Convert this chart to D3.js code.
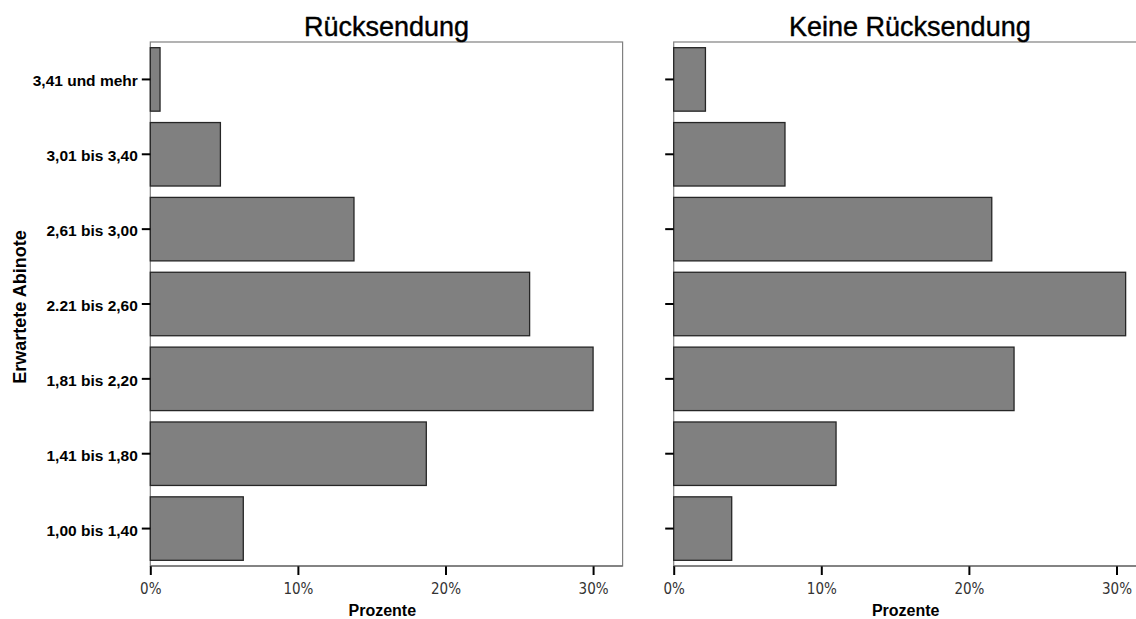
<!DOCTYPE html>
<html>
<head>
<meta charset="utf-8">
<script src="https://cdn.jsdelivr.net/npm/d3@7"></script>
<style>
  html, body { margin: 0; padding: 0; background: #fff; }
  svg { display: block; }
</style>
</head>
<body>
<svg id="chart" width="1136" height="619"></svg>
<script>
const categories = ["3,41 und mehr", "3,01 bis 3,40", "2,61 bis 3,00", "2.21 bis 2,60", "1,81 bis 2,20", "1,41 bis 1,80", "1,00 bis 1,40"];
const panelTitles = ["Rücksendung", "Keine Rücksendung"];
const ruecksendung = [0.66, 4.75, 13.8, 25.7, 30.0, 18.7, 6.3];
const keineRuecksendung = [2.15, 7.54, 21.55, 30.62, 23.06, 11.0, 3.93];
const xTicks = [0, 10, 20, 30];
const xDomain = [0, 32];
const xLabel = "Prozente";
const yLabel = "Erwartete Abinote";

(function () {
const svg = d3.select("#chart");
const plotTop = 42, plotBottom = 566, plotW = 472.3;
const panels = [
  { title: panelTitles[0], values: ruecksendung, x0: 150.3, labels: true },
  { title: panelTitles[1], values: keineRuecksendung, x0: 673.7, labels: false }
];

const y = d3.scaleBand().domain(categories).range([plotTop, plotBottom])
  .paddingInner(0.152).paddingOuter(0.076);
const x = d3.scaleLinear().domain(xDomain).range([0, plotW]);

const sans = "'Liberation Sans', Arial, Helvetica, sans-serif";
const narrow = "'Liberation Sans Narrow', 'Arial Narrow', 'DejaVu Sans Condensed', sans-serif";

panels.forEach(p => {
  const g = svg.append("g").attr("transform", `translate(${p.x0},0)`);

  g.append("rect")
    .attr("x", 0).attr("y", plotTop)
    .attr("width", plotW).attr("height", plotBottom - plotTop)
    .attr("fill", "none").attr("stroke", "#808080").attr("stroke-width", 1.2);

  g.selectAll("rect.bar").data(p.values).join("rect")
    .attr("class", "bar")
    .attr("x", x(0))
    .attr("y", (d, i) => y(categories[i]))
    .attr("width", d => x(d) - x(0))
    .attr("height", y.bandwidth())
    .attr("fill", "#808080")
    .attr("stroke", "#262626")
    .attr("stroke-width", 1.3);

  const ya = g.append("g").call(
    d3.axisLeft(y).tickSize(8.5).tickPadding(4)
      .tickFormat(p.labels ? (d => d) : (() => ""))
  );
  ya.select(".domain").remove();
  ya.selectAll(".tick line").attr("stroke", "#000").attr("stroke-width", 2);
  ya.selectAll(".tick text")
    .attr("dy", "0.45em")
    .attr("font-family", sans).attr("font-weight", "bold")
    .attr("font-size", "15.5px").attr("fill", "#000");

  const xa = g.append("g").attr("transform", `translate(0,${plotBottom})`).call(
    d3.axisBottom(x).tickValues(xTicks).tickSize(9).tickPadding(8)
      .tickFormat(d => d + "%")
  );
  xa.select(".domain").remove();
  xa.selectAll(".tick line").attr("stroke", "#000").attr("stroke-width", 2);
  xa.selectAll(".tick text")
    .attr("font-family", narrow).attr("font-size", "15px").attr("fill", "#333");

  g.append("line").attr("x1", 0).attr("x2", plotW)
    .attr("y1", plotBottom).attr("y2", plotBottom)
    .attr("stroke", "#555").attr("stroke-width", 1.2);

  g.append("text")
    .attr("x", plotW / 2).attr("y", 36)
    .attr("text-anchor", "middle")
    .attr("font-family", sans).attr("font-size", "27px")
    .attr("fill", "#000").attr("stroke", "#000").attr("stroke-width", 0.4)
    .text(p.title);

  g.append("text")
    .attr("x", 232).attr("y", 616)
    .attr("text-anchor", "middle")
    .attr("font-family", sans).attr("font-weight", "bold")
    .attr("font-size", "16px").attr("fill", "#000")
    .text(xLabel);
});

svg.append("text")
  .attr("transform", `translate(26,${(plotTop + plotBottom) / 2 + 3}) rotate(-90)`)
  .attr("text-anchor", "middle")
  .attr("font-family", sans).attr("font-weight", "bold")
  .attr("font-size", "18px").attr("fill", "#000")
  .text(yLabel);
})();
</script>
</body>
</html>
